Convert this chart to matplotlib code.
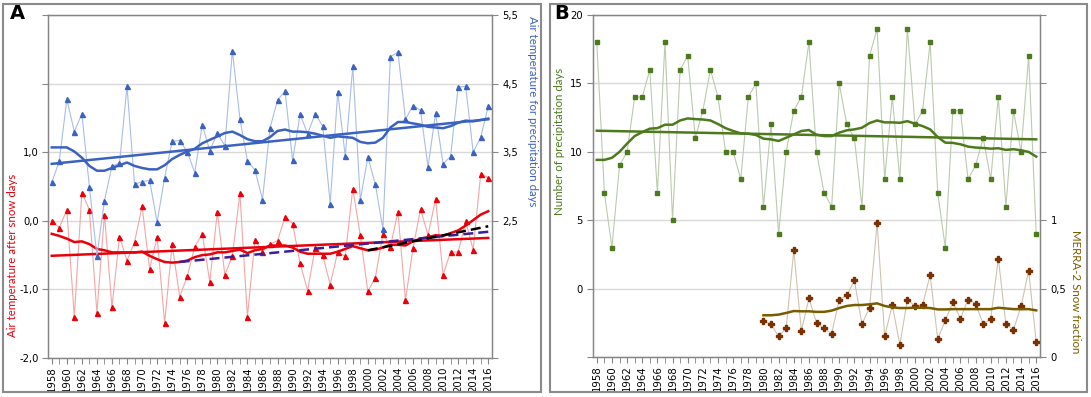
import matplotlib
matplotlib.use("Agg")
import matplotlib.pyplot as plt
from matplotlib.patches import Rectangle
from matplotlib.ticker import FixedLocator, FuncFormatter, MultipleLocator
import numpy as np

years = np.arange(1958, 2017)
snow_years = np.arange(1980, 2017)

# panel A, right axis: air temperature for precipitation days
t_precip = [3.06, 3.37, 4.27, 3.80, 4.06, 3.00, 1.99, 2.79, 3.30, 3.34, 4.46, 3.03, 3.07, 3.09, 2.48,
            3.13, 3.66, 3.67, 3.51, 3.20, 3.90, 3.52, 3.78, 3.59, 4.98, 3.99, 3.37, 3.24, 2.81, 3.85,
            4.26, 4.39, 3.38, 4.05, 3.77, 4.06, 3.88, 2.75, 4.38, 3.44, 4.75, 2.80, 3.43, 3.03, 2.38,
            4.89, 4.96, 3.98, 4.18, 4.11, 3.28, 4.07, 3.33, 3.44, 4.45, 4.46, 3.50, 3.72, 4.17]
t_precip_ma = [3.57, 3.57, 3.57, 3.51, 3.42, 3.30, 3.23, 3.23, 3.27, 3.31, 3.35, 3.30, 3.27, 3.25, 3.25,
               3.31, 3.40, 3.46, 3.51, 3.55, 3.63, 3.68, 3.73, 3.78, 3.80, 3.75, 3.69, 3.66, 3.66, 3.72,
               3.81, 3.83, 3.80, 3.80, 3.79, 3.77, 3.74, 3.71, 3.73, 3.72, 3.71, 3.65, 3.63, 3.64, 3.71,
               3.86, 3.94, 3.94, 3.92, 3.90, 3.87, 3.86, 3.85, 3.88, 3.93, 3.96, 3.95, 3.97, 3.99]
t_precip_trend = [3.33, 3.98]

# panel A, left axis: air temperature after snow days
t_snow = [0.00, -0.10, 0.16, -1.40, 0.41, 0.16, -1.34, 0.09, -1.26, -0.23, -0.58, -0.31, 0.21, -0.70, -0.24,
          -1.49, -0.34, -1.11, -0.81, -0.38, -0.19, -0.89, 0.13, -0.79, -0.51, 0.40, -1.40, -0.28, -0.45, -0.34,
          -0.29, 0.06, -0.04, -0.62, -1.02, -0.39, -0.50, -0.93, -0.45, -0.52, 0.47, -0.21, -1.03, -0.83, -0.19,
          -0.38, 0.13, -1.16, -0.40, 0.17, -0.21, 0.32, -0.79, -0.45, -0.46, -0.01, -0.42, 0.68, 0.63]
t_snow_ma = [-0.19, -0.22, -0.26, -0.31, -0.30, -0.34, -0.41, -0.43, -0.46, -0.46, -0.46, -0.46, -0.45, -0.51, -0.56,
             -0.60, -0.61, -0.60, -0.58, -0.53, -0.50, -0.49, -0.46, -0.46, -0.44, -0.42, -0.47, -0.43, -0.41, -0.36,
             -0.36, -0.36, -0.39, -0.45, -0.48, -0.48, -0.48, -0.48, -0.45, -0.41, -0.37, -0.40, -0.43, -0.42, -0.39,
             -0.35, -0.35, -0.36, -0.30, -0.26, -0.24, -0.21, -0.22, -0.18, -0.14, -0.07, 0.01, 0.09, 0.14]
t_snow_trend = [-0.51, -0.25]
t_snow_trend_1975 = [-0.60, -0.16]
t_snow_trend_2000 = [-0.43, -0.08]

# panel B
precip_days = [18, 7, 3, 9, 10, 14, 14, 16, 7, 18, 5, 16, 17, 11, 13, 16, 14, 10, 10, 8, 14, 15, 6, 12, 4,
               10, 13, 14, 18, 10, 7, 6, 15, 12, 11, 6, 17, 19, 8, 14, 8, 19, 12, 13, 18, 7, 3, 13, 13, 8,
               9, 11, 8, 14, 6, 13, 10, 17, 4]
precip_days_ma = [9.41, 9.41, 9.56, 10.0, 10.6, 11.15, 11.44, 11.69, 11.73, 11.98, 11.98, 12.29, 12.44, 12.39, 12.36,
                  12.29, 12.03, 11.73, 11.52, 11.35, 11.32, 11.23, 10.96, 10.91, 10.79, 11.03, 11.27, 11.52, 11.59, 11.25,
                  11.15, 11.15, 11.4, 11.57, 11.64, 11.76, 12.1, 12.29, 12.15, 12.15, 12.12, 12.24, 12.05, 11.88, 11.64,
                  11.08, 10.67, 10.65, 10.55, 10.38, 10.31, 10.28, 10.23, 10.26, 10.14, 10.19, 10.11, 9.99, 9.65]
precip_days_trend = [11.54, 10.91]

snow_frac = [0.26, 0.24, 0.15, 0.21, 0.78, 0.19, 0.43, 0.25, 0.21, 0.17, 0.42, 0.45, 0.56, 0.24, 0.36,
             0.98, 0.15, 0.38, 0.09, 0.42, 0.37, 0.38, 0.60, 0.13, 0.27, 0.40, 0.28, 0.42, 0.39, 0.24,
             0.28, 0.72, 0.24, 0.20, 0.37, 0.63, 0.11]
snow_frac_ma = [0.305, 0.305, 0.31, 0.322, 0.336, 0.334, 0.334, 0.33, 0.33, 0.339, 0.358, 0.373, 0.38, 0.38, 0.385,
                0.392, 0.373, 0.363, 0.358, 0.358, 0.36, 0.36, 0.358, 0.348, 0.348, 0.35, 0.35, 0.35, 0.35, 0.35,
                0.35, 0.36, 0.355, 0.35, 0.35, 0.35, 0.341]

BLUE, BLUE_L = '#3b62c0', '#a9bde8'
RED, RED_L = '#e8000b', '#f4a6a6'
GREEN, GREEN_L = '#4e7a1e', '#bccab0'
BROWN, BROWN_L = '#7a3000', '#cfc3b0'
BROWN_MA = '#7a5c00'
GRID = '#d9d9d9'
SPINE = '#868686'
LBL = dict(family='Lato', fontsize=8.3)

plt.rcParams['font.family'] = 'DejaVu Sans'
fig = plt.figure(figsize=(10.91, 3.97), dpi=100)

# outer panel frames
for x0, x1 in [(3, 541), (550, 1087)]:
    fig.patches.append(Rectangle((x0 / 1091, 1 - 392 / 397), (x1 - x0) / 1091, 388 / 397,
                                 transform=fig.transFigure, fill=False, edgecolor='#8a8a8a', lw=1.5))


def style_x(ax):
    ax.set_xlim(1957.5, 2016.5)
    ax.xaxis.set_major_locator(FixedLocator(np.arange(1958, 2017, 2)))
    ax.xaxis.set_minor_locator(MultipleLocator(1))
    ax.tick_params(axis='x', which='major', labelrotation=90, labelsize=7.3, length=4, color=SPINE, pad=2)
    ax.tick_params(axis='x', which='minor', length=4, color=SPINE)
    for s in ax.spines.values():
        s.set_color(SPINE)
        s.set_linewidth(1)


def comma(fmt, show):
    return FuncFormatter(lambda v, p: (fmt % v).replace('.', ',') if show(v) else '')


# ---------------- panel A ----------------
axA = fig.add_axes([48 / 1091, 1 - 358 / 397, 444 / 1091, 343 / 397])
axA.set_ylim(-2, 3)
axA.yaxis.set_major_locator(MultipleLocator(1))
axA.yaxis.set_major_formatter(comma('%.1f', lambda v: v < 1.5))
axA.grid(axis='y', color=GRID, lw=1)
axA.set_axisbelow(True)
style_x(axA)
axA.tick_params(axis='y', labelsize=7.2, length=4, color=SPINE, pad=2.5)

axA.plot(years, t_snow, color=RED_L, lw=0.8, marker='^', ms=3.6, mfc=RED, mec=RED, zorder=2)
axA.plot(years, t_snow_ma, color=RED, lw=1.8, zorder=3)
axA.plot([years[0], years[-1]], t_snow_trend, color=RED, lw=1.8, zorder=3)
axA.plot([1975, 2016], t_snow_trend_1975, color='#3a1f9a', lw=1.8, ls=(0, (4, 2)), zorder=4)
axA.plot([2000, 2016], t_snow_trend_2000, color='black', lw=1.8, ls=(0, (4, 2)), zorder=4)
axA.set_ylabel('Air temperature after snow days', color=RED, **LBL)
axA.yaxis.set_label_coords(-0.068, 0.3)

axAr = axA.twinx()
axAr.set_ylim(0.5, 5.5)
axAr.yaxis.set_major_locator(FixedLocator(np.arange(0.5, 5.6, 1)))
axAr.yaxis.set_major_formatter(comma('%.1f', lambda v: v > 2))
axAr.tick_params(axis='y', labelsize=7.2, length=4, color=SPINE)
for s in axAr.spines.values():
    s.set_color(SPINE)
axAr.plot(years, t_precip, color=BLUE_L, lw=0.8, marker='^', ms=3.6, mfc=BLUE, mec=BLUE, zorder=2)
axAr.plot(years, t_precip_ma, color=BLUE, lw=1.8, zorder=3)
axAr.plot([years[0], years[-1]], t_precip_trend, color=BLUE, lw=1.8, zorder=3)
axAr.set_ylabel('Air temperature for precipitation days', color=BLUE, rotation=-90, va='bottom', **LBL)
axAr.yaxis.set_label_coords(1.078, 0.72)

fig.text(10 / 1091, 1 - 19 / 397, 'A', fontsize=14, fontweight='bold')

# ---------------- panel B ----------------
axB = fig.add_axes([593 / 1091, 1 - 357 / 397, 447 / 1091, 342 / 397])
axB.set_ylim(-5, 20)
axB.yaxis.set_major_locator(MultipleLocator(5))
axB.yaxis.set_major_formatter(FuncFormatter(lambda v, p: '%d' % v if v > -1 else ''))
axB.grid(axis='y', color=GRID, lw=1)
axB.set_axisbelow(True)
style_x(axB)
axB.tick_params(axis='y', labelsize=7.2, length=4, color=SPINE)
axB.plot(years, precip_days, color=GREEN_L, lw=0.8, marker='s', ms=3.4, mfc=GREEN, mec=GREEN, zorder=2)
axB.plot(years, precip_days_ma, color=GREEN, lw=1.8, zorder=3)
axB.plot([years[0], years[-1]], precip_days_trend, color=GREEN, lw=1.8, zorder=3)
axB.set_ylabel('Number of precipitation days', color=GREEN, **LBL)
axB.yaxis.set_label_coords(-0.062, 0.63)

axBr = axB.twinx()
axBr.set_ylim(0, 2.5)
axBr.yaxis.set_major_locator(MultipleLocator(0.5))
axBr.yaxis.set_major_formatter(FuncFormatter(
    lambda v, p: ('%g' % v).replace('.', ',') if v < 1.01 else ''))
axBr.tick_params(axis='y', labelsize=7.2, length=4, color=SPINE)
for s in axBr.spines.values():
    s.set_color(SPINE)
axBr.plot(snow_years, snow_frac, color=BROWN_L, lw=0.8, marker='P', ms=4, mfc=BROWN, mec=BROWN, zorder=2)
axBr.plot(snow_years, snow_frac_ma, color=BROWN_MA, lw=1.8, zorder=3)
axBr.set_ylabel('MERRA-2 Snow fraction', color=BROWN_MA, rotation=-90, va='bottom', **LBL)
axBr.yaxis.set_label_coords(1.066, 0.19)

fig.text(554 / 1091, 1 - 19 / 397, 'B', fontsize=14, fontweight='bold')

fig.savefig('out.png', dpi=100)
